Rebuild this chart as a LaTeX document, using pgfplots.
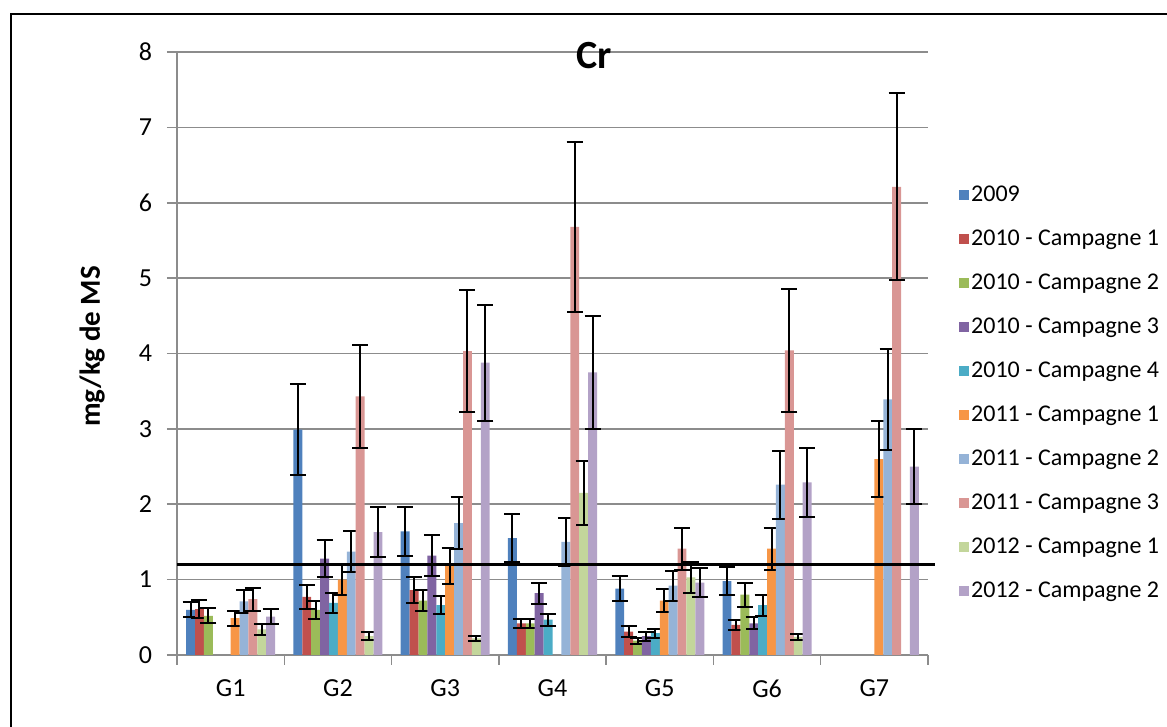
\documentclass[border=0pt]{standalone}
\usepackage{pgfplots}
\pgfplotsset{compat=1.18}
\usepackage{fontspec}
\setmainfont{Carlito}
\definecolor{c1}{HTML}{4F81BD}
\definecolor{c2}{HTML}{C0504D}
\definecolor{c3}{HTML}{9BBB59}
\definecolor{c4}{HTML}{8064A2}
\definecolor{c5}{HTML}{4BACC6}
\definecolor{c6}{HTML}{F79646}
\definecolor{c7}{HTML}{95B3D7}
\definecolor{c8}{HTML}{D99694}
\definecolor{c9}{HTML}{C3D69B}
\definecolor{c10}{HTML}{B3A2C7}
\definecolor{gridgray}{HTML}{8C8C8C}
\pgfplotsset{
  errstyle/.style={
    error bars/.cd, y dir=both, y explicit,
    error bar style={draw=black, solid, line width=1pt},
    error mark options={rotate=90, draw=black, solid, line width=1pt, mark size=4pt}
  }
}
\begin{document}
\begin{tikzpicture}
\useasboundingbox (0,0) rectangle (583.5pt,363.5pt);
\draw[line width=1pt] (5.5pt,-5pt) -- (5.5pt,356.5pt) -- (590pt,356.5pt);
\begin{axis}[
  at={(88.5pt,36pt)}, anchor=south west,
  scale only axis, width=375.5pt, height=301.5pt,
  xmin=0.5, xmax=7.5, ymin=0, ymax=8,
  ybar=0pt, bar width=4.45pt,
  clip=false,
  axis x line*=bottom, axis y line*=left,
  axis line style={draw=gridgray, line width=0.75pt},
  ytick={0,1,...,8},
  ymajorgrids, grid style={draw=gridgray, line width=0.75pt},
  xtick={0.5,1.5,...,7.5}, xticklabels={},
  extra x ticks={1,2,...,7},
  extra x tick labels={G1,G2,G3,G4,G5,G6,G7},
  extra x tick style={major tick length=0pt, grid=none,
    tick label style={yshift=-9pt}},
  tick align=outside,
  major tick length=5pt,
  tick style={draw=gridgray, line width=0.75pt},
  tick label style={font=\fontsize{13}{15}\selectfont, text=black},
  yticklabel style={xshift=-4pt},
  /pgf/number format/assume math mode=true,
  ylabel={mg/kg de MS},
  ylabel style={at={(axis description cs:-0.113,0.512)}, anchor=center, font=\bfseries\fontsize{14.5}{17}\selectfont},
  title={Cr},
  title style={at={(axis description cs:0.555,0.975)}, anchor=center, font=\bfseries\fontsize{20}{24}\selectfont},
  legend style={at={(axis description cs:1.041,0.786)}, anchor=north west, draw=none, fill=none,
    inner sep=0pt, row sep=8pt, font=\fontsize{12}{14}\selectfont,
    nodes={inner sep=1pt, text height=9pt, text depth=3pt}},
  legend cell align=left,
  legend image code/.code={\fill[#1] (0pt,-2.5pt) rectangle (5pt,2.5pt);},
]
\addplot[fill=c1, draw=none, errstyle] coordinates {
 (1,0.60) +- (0,0.10) (2,2.99) +- (0,0.60) (3,1.64) +- (0,0.33) (4,1.55) +- (0,0.32)
 (5,0.88) +- (0,0.17) (6,0.98) +- (0,0.19)};
\addplot[fill=c2, draw=none, errstyle] coordinates {
 (1,0.61) +- (0,0.12) (2,0.77) +- (0,0.16) (3,0.86) +- (0,0.17) (4,0.42) +- (0,0.06)
 (5,0.31) +- (0,0.07) (6,0.40) +- (0,0.07)};
\addplot[fill=c3, draw=none, errstyle] coordinates {
 (1,0.52) +- (0,0.10) (2,0.60) +- (0,0.12) (3,0.72) +- (0,0.14) (4,0.42) +- (0,0.06)
 (5,0.19) +- (0,0.04) (6,0.80) +- (0,0.16)};
\addplot[fill=c4, draw=none, errstyle] coordinates {
 (2,1.28) +- (0,0.25) (3,1.32) +- (0,0.27) (4,0.82) +- (0,0.14)
 (5,0.25) +- (0,0.06) (6,0.42) +- (0,0.08)};
\addplot[fill=c5, draw=none, errstyle] coordinates {
 (2,0.69) +- (0,0.13) (3,0.66) +- (0,0.12) (4,0.47) +- (0,0.08)
 (5,0.29) +- (0,0.06) (6,0.66) +- (0,0.14)};
\addplot[fill=c6, draw=none, errstyle] coordinates {
 (1,0.49) +- (0,0.10) (2,1.00) +- (0,0.20) (3,1.18) +- (0,0.24)
 (5,0.72) +- (0,0.15) (6,1.41) +- (0,0.28) (7,2.60) +- (0,0.51)};
\addplot[fill=c7, draw=none, errstyle] coordinates {
 (1,0.71) +- (0,0.15) (2,1.37) +- (0,0.27) (3,1.75) +- (0,0.35) (4,1.50) +- (0,0.32)
 (5,0.92) +- (0,0.20) (6,2.26) +- (0,0.45) (7,3.39) +- (0,0.67)};
\addplot[fill=c8, draw=none, errstyle] coordinates {
 (1,0.74) +- (0,0.15) (2,3.43) +- (0,0.68) (3,4.03) +- (0,0.81) (4,5.68) +- (0,1.13)
 (5,1.41) +- (0,0.28) (6,4.04) +- (0,0.81) (7,6.21) +- (0,1.24)};
\addplot[fill=c9, draw=none, errstyle] coordinates {
 (1,0.34) +- (0,0.07) (2,0.25) +- (0,0.05) (3,0.22) +- (0,0.03) (4,2.15) +- (0,0.42)
 (5,1.03) +- (0,0.21) (6,0.24) +- (0,0.04)};
\addplot[fill=c10, draw=none, errstyle] coordinates {
 (1,0.51) +- (0,0.10) (2,1.63) +- (0,0.33) (3,3.88) +- (0,0.77) (4,3.75) +- (0,0.75)
 (5,0.96) +- (0,0.19) (6,2.29) +- (0,0.46) (7,2.50) +- (0,0.50)};
\legend{2009,2010 - Campagne 1,2010 - Campagne 2,2010 - Campagne 3,2010 - Campagne 4,2011 - Campagne 1,2011 - Campagne 2,2011 - Campagne 3,2012 - Campagne 1,2012 - Campagne 2}
\addplot[sharp plot, black, line width=1.5pt, forget plot] coordinates {(0.5,1.2) (7.565,1.2)};
\end{axis}
\end{tikzpicture}
\end{document}
